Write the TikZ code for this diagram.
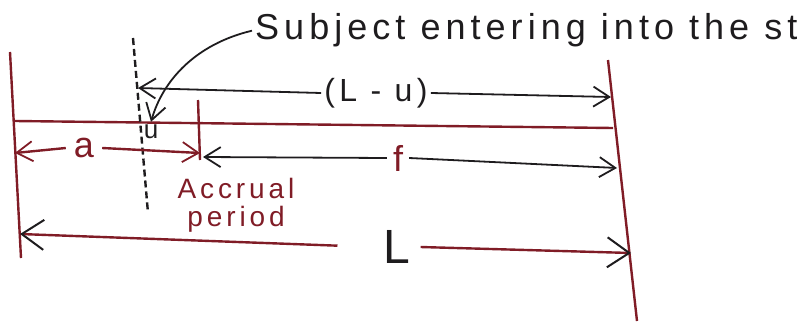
\documentclass[tikz,border=0pt]{standalone}
\usepackage{fontspec}
\setmainfont{Liberation Sans}
\newfontfamily\widefont[LetterSpace=14]{Liberation Sans}
\usepackage{tikz}
\usetikzlibrary{arrows.meta, positioning}
\definecolor{inkred}{RGB}{128,28,38}
\definecolor{inkblack}{RGB}{30,28,30}

\begin{document}
\begin{tikzpicture}[x=1pt, y=-1pt,
    redline/.style={draw=inkred, line width=2.4pt},
    blkline/.style={draw=inkblack, line width=1.8pt},
    tohead/.style={-{Straight Barb[length=16pt, width=20pt, line width=1.8pt]}},
    bighead/.style={-{Straight Barb[length=22pt, width=30pt, line width=2pt, color=inkblack]}},
    lbl/.style={inner sep=3pt, font=\widefont\fontsize{#1}{#1}\selectfont}]
  \useasboundingbox (0,0) rectangle (802,321);
  % end points of the verticals and the dimension lines
  \coordinate (leftT) at (10,52);    \coordinate (leftB) at (21,258);
  \coordinate (rightT) at (608,60);  \coordinate (rightB) at (637,321);
  \coordinate (baseL) at (15,121);   \coordinate (baseR) at (613,128);
  \coordinate (dashT) at (133,38);   \coordinate (dashB) at (148,213);
  \coordinate (accT) at (198,100);   \coordinate (accB) at (200,160);
  \coordinate (luL) at (138,88);     \coordinate (luR) at (611,97);
  \coordinate (aL) at (15,153);      \coordinate (aR) at (200,153);
  \coordinate (fL) at (203,157);     \coordinate (fR) at (617,168);
  \coordinate (LL) at (20,234);      \coordinate (LR) at (631,253);

  \draw[redline] (leftT) -- (leftB);
  \draw[redline] (rightT) -- (rightB);
  \draw[redline] (baseL) -- (baseR);
  \draw[redline] (accT) -- (accB);
  \draw[blkline, line width=2.4pt, dash pattern=on 7pt off 4pt] (dashT) -- (dashB);

  % labels
  \node[lbl=36, anchor=base west, inkblack] (subj) at (252,40) {Subject entering into the st};
  \node[lbl=26, inkblack] (u) at (151,132) {u};
  \node[lbl=32, inkblack] (lu) at (376,93) {(L - u)};
  \node[lbl=36, inkred, inner xsep=8pt] (lbla) at (84,148) {a};
  \node[lbl=36, inkred, inner xsep=6pt] (lblf) at (398,158) {f};
  \node[lbl=28, inkred, align=center] (acc) at (236,205) {Accrual\\period};
  \node[lbl=48, inkblack, inner xsep=10pt] (lblL) at (397,247) {L};

  % arrows
  \draw[blkline, tohead] (subj.west) .. controls (196,44) and (163,80) .. (u.north);
  \draw[blkline, tohead] (lu.west) -- (luL);
  \draw[blkline, tohead] (lu.east) -- (luR);
  \draw[redline, tohead] (lbla.west) -- (aL);
  \draw[redline, tohead] (lbla.east) -- (aR);
  \draw[blkline, tohead] (lblf.west) -- (fL);
  \draw[blkline, tohead] (lblf.east) -- (fR);
  \draw[redline, bighead, shorten <=36pt] (lblL.west) -- (LL);
  \draw[redline, bighead] (lblL.east) -- (LR);
\end{tikzpicture}
\end{document}
